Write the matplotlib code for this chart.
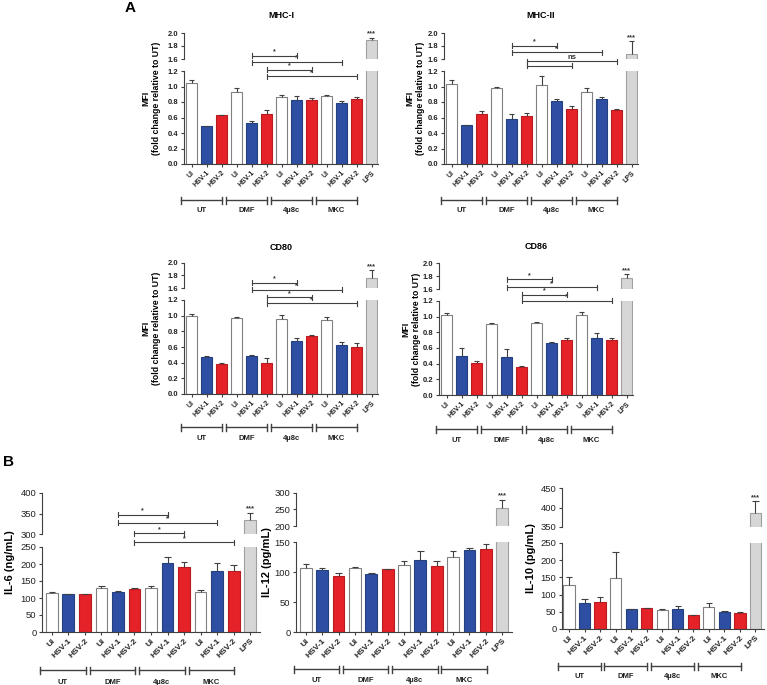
import numpy as np
import matplotlib
matplotlib.use("Agg")
import matplotlib.pyplot as plt
from matplotlib.transforms import blended_transform_factory

plt.rcParams['font.family'] = ['Liberation Sans', 'DejaVu Sans']

# ---- data ----
bar_labels = ["UI", "HSV-1", "HSV-2"] * 4 + ["LPS"]
groups = ["UT", "DMF", "4\u00b58c", "MKC"]

mhc1_mean = [1.05, 0.49, 0.63, 0.93, 0.53, 0.64, 0.87, 0.82, 0.82, 0.88, 0.79, 0.845, 1.89]
mhc1_err = [0.03, 0.005, 0.005, 0.05, 0.02, 0.06, 0.02, 0.06, 0.03, 0.01, 0.02, 0.025, 0.04]
mhc1_sig = [(4, 7, 1.40, "*"), (4, 10, 1.316, "*"), (5, 8, 1.213, "*"), (5, 11, 1.13, "*")]

mhc2_mean = [1.037, 0.50, 0.643, 0.977, 0.58, 0.62, 1.015, 0.81, 0.707, 0.934, 0.845, 0.70, 1.68]
mhc2_err = [0.053, 0.005, 0.047, 0.013, 0.07, 0.035, 0.125, 0.035, 0.043, 0.046, 0.025, 0.01, 0.19]
mhc2_sig = [(4, 7, 1.526, "*"), (4, 10, 1.44, "*"), (5, 11, 1.324, "ns"), (5, 8, 1.269, "")]

cd80_mean = [0.996, 0.472, 0.383, 0.97, 0.489, 0.39, 0.96, 0.68, 0.736, 0.94, 0.63, 0.596, 1.76]
cd80_err = [0.021, 0.008, 0.017, 0.013, 0.009, 0.065, 0.05, 0.03, 0.017, 0.047, 0.038, 0.059, 0.12]
cd80_sig = [(4, 7, 1.42, "*"), (4, 10, 1.33, "*"), (5, 8, 1.235, "*"), (5, 11, 1.158, "*")]

cd86_mean = [1.017, 0.502, 0.404, 0.906, 0.485, 0.353, 0.915, 0.66, 0.706, 1.017, 0.723, 0.706, 1.78]
cd86_err = [0.03, 0.094, 0.03, 0.014, 0.098, 0.017, 0.021, 0.017, 0.017, 0.038, 0.067, 0.024, 0.05]
cd86_sig = [(4, 7, 1.477, "*"), (4, 10, 1.375, "*"), (5, 8, 1.28, "*"), (5, 11, 1.2, "*")]

il6_mean = [115, 111, 111, 128, 119, 127, 128, 203, 191, 117, 179, 178, 334]
il6_err = [2, 1, 1, 8, 2, 2, 8, 19, 15, 7, 24, 20, 18]
il6_sig = [(4, 7, 345, "*"), (4, 10, 320.6, "*"), (5, 8, 290, "*"), (5, 11, 263.7, "*")]

il12_mean = [107.5, 103, 94, 106, 97, 105, 111, 120, 110, 124.6, 136, 138.5, 256]
il12_err = [5.5, 4.5, 5, 3, 2, 0.5, 8, 15, 8.6, 10.4, 3.5, 8.5, 24]

il10_mean = [127, 77, 79, 149, 57.7, 59.6, 54, 56.7, 39.4, 63.5, 49, 46, 386]
il10_err = [23, 9.5, 15, 74, 1, 1, 3.7, 11.3, 1, 11.5, 4, 3, 30]

# ---- styling ----
W, H = 767, 685
BLUE, RED, GREY = "#2d4ea2", "#e52228", "#d6d6d6"
fills = ["white", BLUE, RED] * 4 + [GREY]
edges = ["#808080", "#24407f", "#b81c21"] * 4 + ["#a0a0a0"]
LINE = "#404040"

fig = plt.figure(figsize=(W / 100, H / 100), dpi=100)


def px_axes(x0, x1, ytop, ybot):
    ax = fig.add_axes([x0 / W, 1 - ybot / H, (x1 - x0) / W, (ybot - ytop) / H])
    ax.patch.set_visible(False)
    return ax


def draw_bars(ax, means, errs, width):
    x = np.arange(len(means))
    ax.bar(x, means, width=width, color=fills, edgecolor=edges, linewidth=0.8, zorder=2)
    top = np.array(means) + np.array(errs)
    ax.vlines(x, means, top, color=LINE, lw=0.8, zorder=3)
    ax.hlines(top, x - width * 0.28, x + width * 0.28, color=LINE, lw=0.8, zorder=3)


def panel(means, errs, x0, x1, up, lo, up_lim, lo_lim, up_ticks, lo_ticks,
          xlim, width, fmt, ytick_fs, ytick_w, xtick_fs, grp_y, sig=None,
          title=None, title_y=None, ylabel=None, ylab_x=None, ylab_fs=7, grp_fs=5.5):
    ax_up = px_axes(x0, x1, up[0], up[1])
    ax_lo = px_axes(x0, x1, lo[0], lo[1])
    for ax, lim, ticks in ((ax_up, up_lim, up_ticks), (ax_lo, lo_lim, lo_ticks)):
        draw_bars(ax, means, errs, width)
        ax.set_ylim(*lim)
        ax.set_xlim(*xlim)
        ax.set_yticks(ticks)
        ax.set_yticklabels([fmt.format(t) for t in ticks], fontsize=ytick_fs, fontweight=ytick_w)
        ax.spines[['top', 'right']].set_visible(False)
        ax.spines['left'].set_color(LINE)
        ax.tick_params(axis='y', length=2.5, width=0.8, pad=1.5, colors=LINE, labelcolor='#222222')
    ax_up.spines['bottom'].set_visible(False)
    ax_up.set_xticks([])
    ax_lo.spines['bottom'].set_color(LINE)
    x = np.arange(len(means))
    ax_lo.set_xticks(x)
    ax_lo.set_xticklabels(bar_labels, rotation=45, ha='right', rotation_mode='anchor',
                          fontsize=xtick_fs, fontweight='bold', color='#222222')
    ax_lo.tick_params(axis='x', length=2, width=0.8, pad=2, colors=LINE, labelcolor='#222222')

    # *** over LPS
    ax_up.text(12, means[12] + errs[12], "***", ha='center', va='bottom',
               fontsize=5.5, fontweight='bold', color='#333333')

    # group brackets under the tick labels
    tr = blended_transform_factory(ax_lo.transData, fig.transFigure)
    yb = 1 - grp_y[0] / H
    d = 3.5 / H
    for g, name in enumerate(groups):
        xa, xb = 3 * g - 0.72, 3 * g + 2.05
        ax_lo.plot([xa, xb], [yb, yb], transform=tr, clip_on=False, color=LINE, lw=1)
        ax_lo.plot([xa, xa], [yb - d, yb + d], transform=tr, clip_on=False, color=LINE, lw=1)
        ax_lo.plot([xb, xb], [yb - d, yb + d], transform=tr, clip_on=False, color=LINE, lw=1)
        ax_lo.text((xa + xb) / 2, 1 - grp_y[1] / H, name, transform=tr, ha='center', va='center',
                   fontsize=grp_fs, fontweight='bold', color='#222222')

    # significance brackets
    if sig:
        ppu = (lo[1] - lo[0]) / (lo_lim[1] - lo_lim[0])
        dc = 2.5 / ppu
        for i, j, yv, txt in sig:
            ax_lo.plot([i, j], [yv, yv], color=LINE, lw=0.8, clip_on=False, zorder=4)
            ax_lo.plot([i, i], [yv - dc, yv + dc], color=LINE, lw=0.8, clip_on=False, zorder=4)
            ax_lo.plot([j, j], [yv - dc, yv + dc], color=LINE, lw=0.8, clip_on=False, zorder=4)
            if txt:
                ax_lo.text((i + j) / 2, yv + 0.5 / ppu, txt, ha='center', va='bottom',
                           fontsize=5 if txt == "*" else 5.5, fontweight='bold',
                           color='#333333', clip_on=False)

    if title:
        fig.text((x0 + x1) / 2 / W, 1 - title_y / H, title, ha='center', va='center',
                 fontsize=6.5, fontweight='bold')
    if ylabel:
        fig.text(ylab_x / W, 1 - (up[0] + lo[1]) / 2 / H, ylabel, ha='center', va='center',
                 rotation=90, fontsize=ylab_fs, fontweight='bold', linespacing=1.3)
    return ax_up, ax_lo


a_ticks_up = [1.6, 1.8, 2.0]
a_ticks_lo = [0.0, 0.2, 0.4, 0.6, 0.8, 1.0, 1.2]
mfi = "MFI\n(fold change relative to UT)"
a_common = dict(up_lim=(1.6, 2.0), lo_lim=(0, 1.2), up_ticks=a_ticks_up, lo_ticks=a_ticks_lo,
                xlim=(-0.5, 12.43), width=0.7, fmt="{:.1f}", ytick_fs=5.5, ytick_w='bold',
                xtick_fs=5, ylabel=mfi, ylab_fs=6.3)

panel(mhc1_mean, mhc1_err, 184, 378, (33, 59), (71, 164), grp_y=(200, 210), sig=mhc1_sig,
      title="MHC-I", title_y=15, ylab_x=151, **a_common)
panel(mhc2_mean, mhc2_err, 444, 638, (33, 59), (71, 164), grp_y=(200, 210), sig=mhc2_sig,
      title="MHC-II", title_y=15, ylab_x=415, **a_common)
panel(cd80_mean, cd80_err, 184, 378, (262.5, 288), (300, 394), grp_y=(427, 438), sig=cd80_sig,
      title="CD80", title_y=247, ylab_x=151, **a_common)
panel(cd86_mean, cd86_err, 439, 633, (263.3, 289.3), (301, 395), grp_y=(429, 440), sig=cd86_sig,
      title="CD86", title_y=246, ylab_x=411, **a_common)

b_common = dict(width=0.72, fmt="{:d}", ytick_fs=6.8, ytick_w='normal', xtick_fs=6, ylab_fs=8,
                grp_fs=5.5)
panel(il6_mean, il6_err, 42, 260, (493, 534), (547, 632), (300, 400), (0, 250),
      [300, 350, 400], list(range(0, 251, 50)), (-0.6, 12.6), grp_y=(670, 682), sig=il6_sig,
      ylabel="IL-6 (ng/mL)", ylab_x=10, **b_common)
panel(il12_mean, il12_err, 296, 512, (493, 526), (542, 632), (200, 300), (0, 150),
      [200, 250, 300], [0, 50, 100, 150], (-0.6, 12.6), grp_y=(669, 680),
      ylabel="IL-12 (pg/mL)", ylab_x=267, **b_common)
panel(il10_mean, il10_err, 562, 764, (488, 527), (543, 629), (350, 450), (0, 250),
      [350, 400, 450], list(range(0, 251, 50)), (-0.45, 12.55), grp_y=(666, 676),
      ylabel="IL-10 (pg/mL)", ylab_x=531, **b_common)

fig.text(130 / W, 1 - 8 / H, "A", ha='center', va='center', fontsize=11, fontweight='bold')
fig.text(8 / W, 1 - 462 / H, "B", ha='center', va='center', fontsize=11, fontweight='bold')

fig.savefig("out.png", dpi=100)
